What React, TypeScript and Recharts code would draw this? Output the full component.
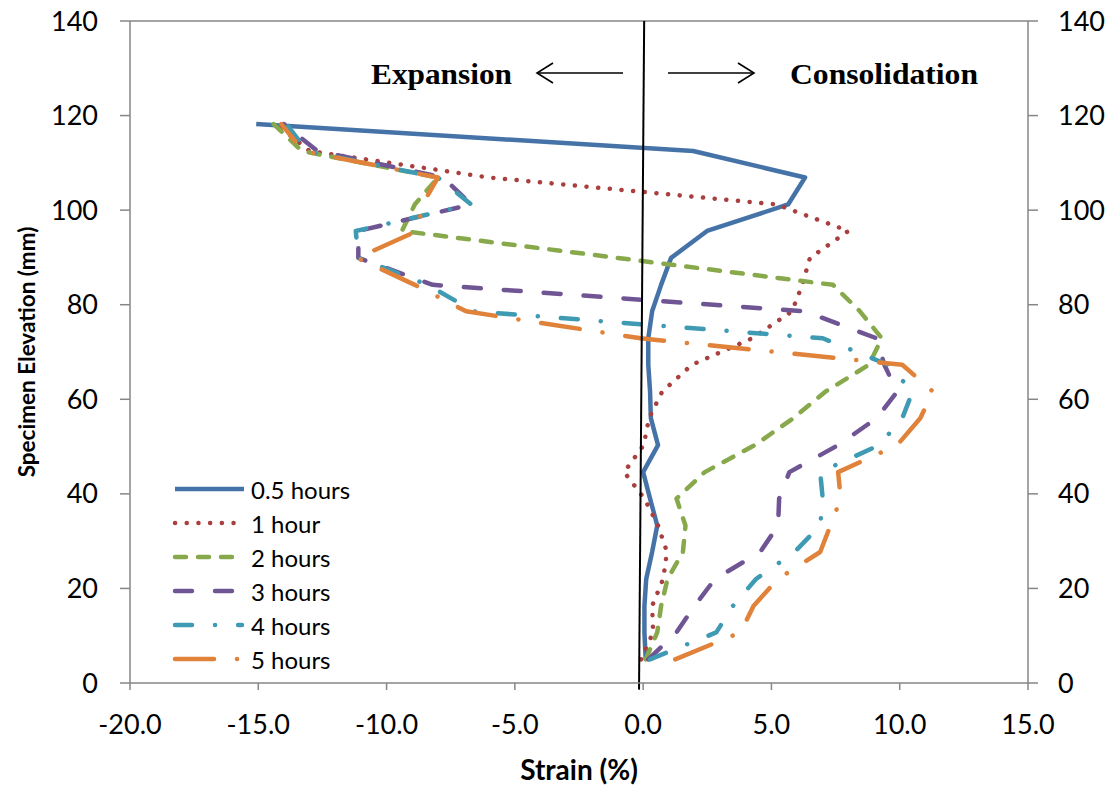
import { Legend, Line, LineChart, ReferenceLine, XAxis, YAxis } from "recharts";

// elevation of each measurement (mm), bottom to top
const elevation = [5.0, 10.7, 16.3, 22.0, 27.7, 33.3, 39.0, 44.6, 50.3, 56.0, 61.6, 67.3, 72.9, 78.6, 84.2, 89.9, 95.6, 101.2, 106.9, 112.5, 118.2];

// strain (%) at each elevation
const strainHalfHour = [0.1, 0.05, 0.05, 0.12, 0.35, 0.55, 0.27, 0.0, 0.58, 0.3, 0.27, 0.2, 0.2, 0.35, 0.7, 1.09, 2.49, 5.65, 6.31, 1.95, -15.08];
const strainOneHour = [-0.08, 0.39, 0.35, 0.78, 0.93, 0.58, 0.05, -0.74, 0.02, 0.23, 0.74, 1.9, 4.25, 5.8, 6.2, 6.5, 8.0, 5.2, -6.0, -13.0, -14.3];
const strainTwoHours = [0.1, 0.55, 0.7, 0.95, 1.55, 1.65, 1.3, 2.4, 4.35, 5.85, 7.1, 8.8, 9.3, 8.45, 7.4, -1.0, -9.4, -8.9, -8.0, -13.3, -14.4];
const strainThreeHours = [0.2, 1.3, 2.0, 2.8, 4.56, 5.26, 5.3, 5.7, 7.6, 9.1, 9.9, 9.4, 9.1, 6.3, -8.2, -11.1, -11.1, -6.7, -7.8, -12.7, -14.0];
const strainFourHours = [0.27, 2.85, 3.5, 4.4, 5.9, 6.9, 7.0, 6.9, 9.2, 10.1, 10.5, 9.55, 7.0, -6.6, -8.4, -11.1, -11.2, -6.7, -8.0, -13.1, -13.9];
const strainFiveHours = [1.25, 3.8, 4.3, 5.25, 6.9, 7.3, 7.7, 7.6, 9.9, 10.8, 11.3, 10.1, -0.1, -6.9, -8.9, -11.15, -8.8, -8.6, -8.0, -13.25, -14.1];

const seriesNames = ["0.5 hours", "1 hour", "2 hours", "3 hours", "4 hours", "5 hours"];
const xTicks = [-20, -15, -10, -5, 0, 5, 10, 15];
const yTicks = [0, 20, 40, 60, 80, 100, 120, 140];

// hand drawn divider between expansion / consolidation
const divider = [
  { x: -0.16, y: -1.4 },
  { x: 0.04, y: 140 },
];

const toPoints = (vals: number[]) => vals.map((v, i) => ({ x: v, y: elevation[i] }));

const styles = [
  { color: "#4573A8", dash: undefined, cap: "butt" },
  { color: "#A9403F", dash: "0.1 11.6", cap: "round" },
  { color: "#87A94B", dash: "11 12", cap: "round" },
  { color: "#6F5594", dash: "17 23", cap: "round" },
  { color: "#3F9AB3", dash: "17 23 0.1 23", cap: "round" },
  { color: "#E0823A", dash: "39 23 0.1 23", cap: "round" },
];

const allSeries = [strainHalfHour, strainOneHour, strainTwoHours, strainThreeHours, strainFourHours, strainFiveHours];

const FONT = "Lato, 'Open Sans', sans-serif";

function LegendBox() {
  return (
    <div style={{ fontFamily: FONT, fontSize: 24, color: "#000" }}>
      {seriesNames.map((name, i) => (
        <div key={name} style={{ display: "flex", alignItems: "center", height: 34 }}>
          <svg width={87} height={34}>
            <line
              x1={11}
              x2={i === 0 ? 80 : 78}
              y1={17}
              y2={17}
              stroke={styles[i].color}
              strokeWidth={4.5}
              strokeDasharray={styles[i].dash}
              strokeLinecap={styles[i].cap as any}
            />
          </svg>
          <span>{name}</span>
        </div>
      ))}
    </div>
  );
}

export default function App() {
  const axisStroke = "#868686";
  const tickStyle = { fontFamily: FONT, fontSize: 27, fill: "#000" };
  const titleStyle = { fontFamily: FONT, fontWeight: 700, fill: "#000" };
  return (
    <div style={{ position: "absolute", left: 0, top: 0, width: 1118, height: 793, background: "#fff" }}>
      <LineChart width={1118} height={793} margin={{ top: 21, right: 10, left: 30, bottom: 10 }}>
        <XAxis
          dataKey="x"
          type="number"
          domain={[-20, 15]}
          ticks={xTicks}
          allowDataOverflow
          tickFormatter={(v: number) => v.toFixed(1)}
          stroke={axisStroke}
          strokeWidth={1.5}
          tickSize={7}
          tickMargin={25}
          tick={tickStyle}
          height={100}
          label={{
            value: "Strain (%)",
            position: "insideBottom",
            offset: 3,
            style: { ...titleStyle, fontSize: 28 },
          }}
        />
        <YAxis
          yAxisId="left"
          dataKey="y"
          type="number"
          domain={[0, 140]}
          ticks={yTicks}
          allowDataOverflow
          stroke={axisStroke}
          strokeWidth={1.5}
          tickSize={10}
          tickMargin={22}
          tick={tickStyle}
          width={100}
          label={{
            value: "Specimen Elevation (mm)",
            angle: -90,
            position: "insideLeft",
            offset: -3,
            style: { ...titleStyle, fontSize: 22.5, textAnchor: "middle" },
          }}
        />
        <YAxis
          yAxisId="right"
          orientation="right"
          type="number"
          domain={[0, 140]}
          ticks={yTicks}
          allowDataOverflow
          stroke={axisStroke}
          strokeWidth={1.5}
          tickSize={10}
          tickMargin={20}
          tick={tickStyle}
          width={80}
        />
        <ReferenceLine yAxisId="left" y={140} stroke={axisStroke} strokeWidth={1.5} />
        {allSeries.map((vals, i) => (
          <Line
            key={seriesNames[i]}
            yAxisId="left"
            data={toPoints(vals)}
            dataKey="y"
            name={seriesNames[i]}
            type="linear"
            stroke={styles[i].color}
            strokeWidth={4.5}
            strokeDasharray={styles[i].dash}
            strokeLinecap={styles[i].cap as any}
            strokeLinejoin="round"
            dot={false}
            isAnimationActive={false}
          />
        ))}
        <ReferenceLine
          yAxisId="left"
          segment={divider}
          ifOverflow="visible"
          stroke="#000"
          strokeWidth={2}
        />
        <Legend
          layout="vertical"
          align="center"
          verticalAlign="middle"
          content={() => <LegendBox />}
          wrapperStyle={{ left: 164, top: 472, width: 220, height: 210 }}
        />
      </LineChart>
      <svg
        width={1118}
        height={793}
        style={{ position: "absolute", left: 0, top: 0, pointerEvents: "none" }}
      >
        <g fontFamily="'Liberation Serif', 'Times New Roman', serif" fontWeight={700} fontSize={30} fill="#000">
          <text x={371} y={84} textLength={141} lengthAdjust="spacingAndGlyphs">Expansion</text>
          <text x={790} y={84} textLength={188} lengthAdjust="spacingAndGlyphs">Consolidation</text>
        </g>
        <g stroke="#000" strokeWidth={1.6} fill="none">
          <line x1={537} y1={73} x2={623} y2={73} />
          <polyline points="553,63 537,73 553,83" />
          <line x1={668} y1={73} x2={754} y2={73} />
          <polyline points="738,63 754,73 738,83" />
        </g>
      </svg>
    </div>
  );
}
